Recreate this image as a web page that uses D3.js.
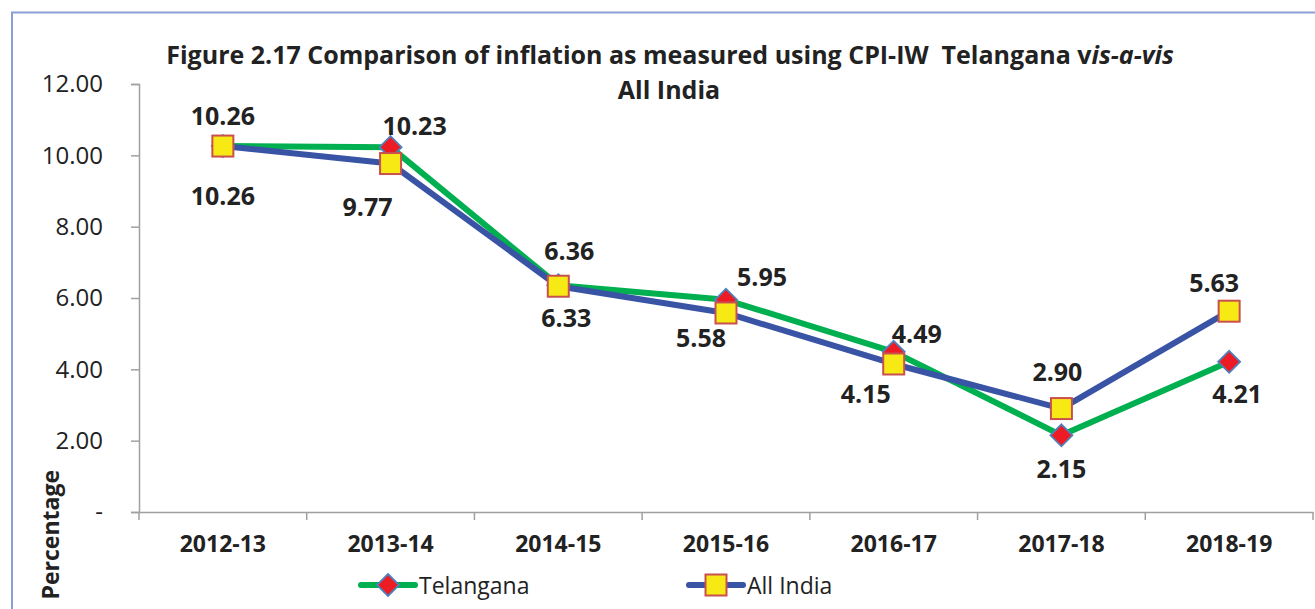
<!DOCTYPE html>
<html>
<head>
<meta charset="utf-8">
<script src="https://cdn.jsdelivr.net/npm/d3@7"></script>
<style>
  body { margin: 0; background: #fff; }
  svg { display: block; font-family: "Open Sans", "Noto Sans", sans-serif; }
</style>
</head>
<body>
<svg id="chart" width="1315" height="609"></svg>
<script>
const years = ['2012-13', '2013-14', '2014-15', '2015-16', '2016-17', '2017-18', '2018-19'];
const telangana = [10.26, 10.23, 6.36, 5.95, 4.49, 2.15, 4.21];
const allIndia = [10.26, 9.77, 6.33, 5.58, 4.15, 2.90, 5.63];
const yTicks = [0, 2, 4, 6, 8, 10, 12];

// label offsets from each marker (dx, dy), picked to match the layout
const telOffsets = [[0, -31], [24, -22], [11, -35], [36, -24], [23, -19], [0, 33], [8, 31]];
const indOffsets = [[0, 49], [-23, 42], [8, 31], [-25, 24], [-28, 29], [-4, -38], [-15, -29]];

const GREEN = '#00b050';
const BLUE = '#3953a5';

const svg = d3.select('#chart');

// outer chart border (only top/left visible)
svg.append('path')
  .attr('d', 'M12,620 L12,12.5 L1330,12.5')
  .attr('fill', 'none')
  .attr('stroke', '#8a9fd6')
  .attr('stroke-width', 2);

const plotL = 139, plotR = 1313, plotT = 84, plotB = 512;

const x = d3.scaleBand().domain(years).range([plotL, plotR]);
const y = d3.scaleLinear().domain([0, 12]).range([plotB, plotT]);
const cx = d => x(d) + x.bandwidth() / 2;

// y axis
const yAxis = svg.append('g')
  .attr('transform', `translate(${plotL},0)`)
  .call(d3.axisLeft(y).tickValues(yTicks).tickSizeOuter(0).tickSize(8).tickPadding(28)
    .tickFormat(v => v === 0 ? '-' : d3.format('.2f')(v)));
yAxis.select('.domain').attr('stroke', '#a0a0a0').attr('stroke-width', 1.5);
yAxis.selectAll('.tick line').attr('stroke', '#a0a0a0').attr('stroke-width', 1.5);
yAxis.selectAll('.tick text')
  .attr('font-family', '"Open Sans", sans-serif')
  .attr('font-size', 24)
  .attr('fill', '#222');

// x axis
const xAxis = svg.append('g')
  .attr('transform', `translate(0,${plotB})`)
  .call(d3.axisBottom(x).tickSize(0).tickPadding(24));
xAxis.select('.domain').attr('stroke', '#a0a0a0').attr('stroke-width', 1.5);
xAxis.selectAll('.tick text')
  .attr('font-family', '"Open Sans", sans-serif')
  .attr('font-size', 23)
  .attr('font-weight', 'bold')
  .attr('fill', '#222');
// boundary tick marks between categories
const bounds = years.map(d => x(d)).concat([plotR]);
xAxis.selectAll('.bound')
  .data(bounds)
  .enter().append('line')
  .attr('class', 'bound')
  .attr('x1', d => d).attr('x2', d => d)
  .attr('y1', 0).attr('y2', 8)
  .attr('stroke', '#a0a0a0').attr('stroke-width', 1.5);

// title
const title = svg.append('text')
  .attr('text-anchor', 'middle')
  .attr('font-weight', 'bold')
  .attr('font-size', 25)
  .attr('fill', '#222');
const t1 = title.append('tspan').attr('x', 670).attr('y', 64);
t1.append('tspan').text('Figure 2.17 Comparison of inflation as measured using CPI-IW\u00a0 Telangana v');
t1.append('tspan').attr('font-style', 'italic').text('is-a-vis');
title.append('tspan').attr('x', 669).attr('y', 99).text('All India');

// y axis title
svg.append('text')
  .attr('transform', 'translate(59,470) rotate(-90)')
  .attr('text-anchor', 'end')
  .attr('font-weight', 'bold')
  .attr('font-size', 23)
  .attr('fill', '#222')
  .text('Percentage');

// lines
const line = d3.line().x((v, i) => cx(years[i])).y(v => y(v));
svg.append('path').datum(telangana)
  .attr('d', line).attr('fill', 'none')
  .attr('stroke', GREEN).attr('stroke-width', 6).attr('stroke-linejoin', 'round');
svg.append('path').datum(allIndia)
  .attr('d', line).attr('fill', 'none')
  .attr('stroke', BLUE).attr('stroke-width', 6).attr('stroke-linejoin', 'round');

const diamond = (px, py, r) => `M${px},${py - r}L${px + r},${py}L${px},${py + r}L${px - r},${py}Z`;

function drawDiamond(g, px, py) {
  g.append('path')
    .attr('d', diamond(px, py, 11))
    .attr('fill', '#ed1c24')
    .attr('stroke', '#4f81bd')
    .attr('stroke-width', 1.8);
}
function drawSquare(g, px, py) {
  g.append('rect')
    .attr('x', px - 10.5).attr('y', py - 10.5)
    .attr('width', 21).attr('height', 21)
    .attr('fill', '#f7ea14')
    .attr('stroke', '#c9504f')
    .attr('stroke-width', 2);
}

const markers = svg.append('g');
telangana.forEach((v, i) => drawDiamond(markers, cx(years[i]), y(v)));
allIndia.forEach((v, i) => drawSquare(markers, cx(years[i]), y(v)));

// data labels
const labels = svg.append('g')
  .attr('font-weight', 'bold')
  .attr('font-size', 25)
  .attr('fill', '#222')
  .attr('text-anchor', 'middle')
  .attr('dominant-baseline', 'central');
labels.selectAll('.tl')
  .data(telangana)
  .enter().append('text')
  .attr('x', (v, i) => cx(years[i]) + telOffsets[i][0])
  .attr('y', (v, i) => y(v) + telOffsets[i][1])
  .text(v => v.toFixed(2));
labels.selectAll('.il')
  .data(allIndia)
  .enter().append('text')
  .attr('x', (v, i) => cx(years[i]) + indOffsets[i][0])
  .attr('y', (v, i) => y(v) + indOffsets[i][1])
  .text(v => v.toFixed(2));

// legend
const legend = svg.append('g');
function legendItem(x0, color, name, marker) {
  legend.append('line')
    .attr('x1', x0).attr('x2', x0 + 54)
    .attr('y1', 585).attr('y2', 585)
    .attr('stroke', color).attr('stroke-width', 6).attr('stroke-linecap', 'round');
  marker(legend, x0 + 27, 585);
  legend.append('text')
    .attr('x', x0 + 58).attr('y', 585)
    .attr('dominant-baseline', 'central')
    .attr('font-size', 23)
    .attr('fill', '#222')
    .text(name);
}
legendItem(361, GREEN, 'Telangana', drawDiamond);
legendItem(689, BLUE, 'All India', drawSquare);
</script>
</body>
</html>
